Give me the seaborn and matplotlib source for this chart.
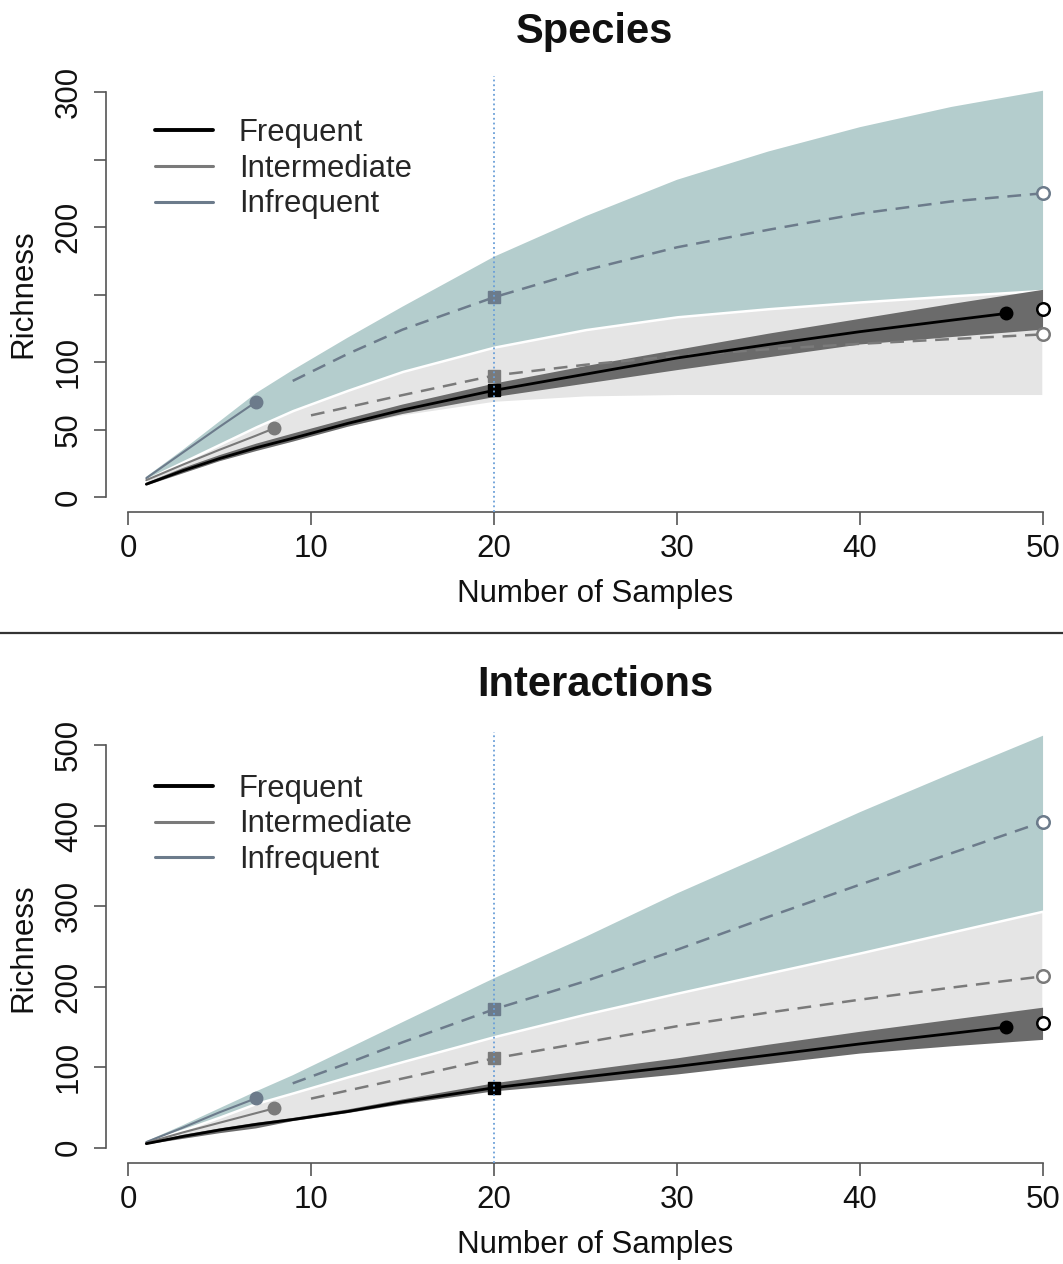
import matplotlib
matplotlib.use("Agg")
import matplotlib.pyplot as plt
from matplotlib.lines import Line2D
import seaborn as sns

sns.set_theme(style="white")
plt.rcParams['font.family'] = ['Liberation Sans', 'DejaVu Sans']

groups = ["Infrequent", "Intermediate", "Frequent"]
line_col = {"Frequent": "black", "Intermediate": "#7a7a7a", "Infrequent": "#6c7b8b"}
band_col = {"Frequent": "#6b6b6b", "Intermediate": "#e5e5e5", "Infrequent": "#b4cdcd"}
line_w = {"Frequent": 2.0, "Intermediate": 1.5, "Infrequent": 1.5}
leg_w = {"Frequent": 2.8, "Intermediate": 2.2, "Infrequent": 2.2}

# shared x grid of the confidence bands
band_x = [1, 3, 5, 7, 9, 12, 15, 20, 25, 30, 35, 40, 45, 50]

# ---- Species ----
sp_fr_rx = [1, 3, 5, 7, 9, 12, 15, 20, 25, 30, 35, 40, 45, 48]
sp_fr_ry = [9.5, 19.5, 28.5, 36.5, 43.5, 54.5, 64.5, 79, 91, 103, 113, 122.5, 131, 136]
sp_fr_ex = [48, 50]
sp_fr_ey = [136, 139.5]
sp_fr_lo = [8.5, 17.5, 26.5, 34, 41, 52, 61.5, 74, 84, 94, 103.5, 113, 118.5, 124]
sp_fr_hi = [10.5, 21.5, 31, 39.5, 47, 58, 68.5, 84, 97, 109, 121, 132, 143, 153.5]

sp_in_rx = [1, 3, 5, 7, 8]
sp_in_ry = [12.5, 24, 35, 45.5, 51]
sp_in_ex = [10, 15, 20, 25, 30, 35, 40, 45, 50]
sp_in_ey = [60.5, 75.5, 90, 98, 104.5, 109.5, 113.5, 117, 120.5]
sp_in_lo = [8.5, 17.5, 26.5, 34, 41, 52, 60, 70, 74, 75, 75, 75, 75, 75]
sp_in_hi = [13, 26, 39, 52, 64, 79, 93, 111, 124, 133.5, 139.5, 144.5, 149, 153]

sp_if_rx = [1, 3, 5, 7]
sp_if_ry = [14, 33, 52, 70.5]
sp_if_ex = [9, 12, 15, 20, 25, 30, 35, 40, 45, 50]
sp_if_ey = [86, 106, 124, 148, 168, 185, 198, 210, 219, 225]
sp_if_lo = [11, 23, 36, 49, 61, 76, 90, 108, 121, 130, 136, 141, 146, 150]
sp_if_hi = [15, 35, 56, 77, 94, 118, 141, 178, 208, 235, 256, 274, 289, 301]

# ---- Interactions ----
in_fr_rx = [1, 3, 5, 7, 9, 12, 15, 20, 25, 30, 35, 40, 45, 48]
in_fr_ry = [5, 14, 22, 29, 35, 45, 57, 74.5, 88, 101, 115, 129, 142, 150]
in_fr_ex = [48, 50]
in_fr_ey = [150, 155]
in_fr_lo = [4, 11, 18, 24, 33, 43, 54, 70, 80, 91, 104, 117, 126, 134]
in_fr_hi = [6, 16, 24, 31, 37, 47.5, 60, 80, 96, 111, 128, 144, 159, 174]

in_in_rx = [1, 3, 5, 7, 8]
in_in_ry = [6, 19, 31, 43, 49]
in_in_ex = [10, 15, 20, 25, 30, 35, 40, 45, 50]
in_in_ey = [61, 86, 111, 131, 151, 168, 184, 199, 213]
in_in_lo = [5, 12, 20, 27, 34, 44, 55, 71, 82, 93, 106, 119, 128, 137]
in_in_hi = [7, 22, 38, 55, 68, 88, 107, 138, 166, 192, 217, 242, 268, 294]

in_if_rx = [1, 3, 5, 7]
in_if_ry = [7, 25, 44, 61.5]
in_if_ex = [9, 12, 15, 20, 25, 30, 35, 40, 45, 50]
in_if_ey = [80, 105, 131, 172, 207, 246, 287, 327, 366, 405]
in_if_lo = [5, 19, 35, 52, 65, 85, 104, 135, 163, 189, 214, 239, 265, 291]
in_if_hi = [8, 28, 49, 70, 90, 123, 156, 210.5, 262, 316, 366, 417, 465, 512]

ref_size = 20

panels = [
    {"title": "Species", "yticks": [0, 50, 100, 150, 200, 250, 300],
     "ylabels": ["0", "50", "100", "", "200", "", "300"], "ylim": (-11.1, 311.9),
     "pos": [106 / 1063, 1 - 512 / 1264, 957 / 1063, 436 / 1264], "tpad": 24,
     "data": {"Frequent": (sp_fr_rx, sp_fr_ry, sp_fr_ex, sp_fr_ey, sp_fr_lo, sp_fr_hi),
              "Intermediate": (sp_in_rx, sp_in_ry, sp_in_ex, sp_in_ey, sp_in_lo, sp_in_hi),
              "Infrequent": (sp_if_rx, sp_if_ry, sp_if_ex, sp_if_ey, sp_if_lo, sp_if_hi)}},
    {"title": "Interactions", "yticks": [0, 100, 200, 300, 400, 500],
     "ylabels": ["0", "100", "200", "300", "400", "500"], "ylim": (-19.0, 516.6),
     "pos": [106 / 1063, 1 - 1163 / 1264, 957 / 1063, 431 / 1264], "tpad": 26,
     "data": {"Frequent": (in_fr_rx, in_fr_ry, in_fr_ex, in_fr_ey, in_fr_lo, in_fr_hi),
              "Intermediate": (in_in_rx, in_in_ry, in_in_ex, in_in_ey, in_in_lo, in_in_hi),
              "Infrequent": (in_if_rx, in_if_ry, in_if_ex, in_if_ey, in_if_lo, in_if_hi)}},
]

fig = plt.figure(figsize=(10.63, 12.64), dpi=100)

for p in panels:
    ax = fig.add_axes(p["pos"])
    for g in groups:
        rx, ry, ex, ey, lo, hi = p["data"][g]
        edge = "white" if g == "Intermediate" else "none"
        ax.fill_between(band_x, lo, hi, color=band_col[g], edgecolor=edge,
                        linewidth=1.8 if g == "Intermediate" else 0, zorder=2)
        sns.lineplot(x=rx, y=ry, color=line_col[g], linewidth=line_w[g], ax=ax, zorder=3)
        if g != "Frequent":
            sns.lineplot(x=ex, y=ey, color=line_col[g], linewidth=1.8, ax=ax, zorder=3,
                         linestyle=(0, (5.5, 3.5)))
        ax.plot(rx[-1], ry[-1], "o", color=line_col[g], ms=9, zorder=6)
        ax.plot(ex[-1], ey[-1], "o", mfc="white", mec=line_col[g], mew=1.8, ms=9, zorder=6)
        allx = rx + ex
        ally = ry + ey
        ax.plot(ref_size, ally[allx.index(ref_size)], "s", color=line_col[g], ms=9, zorder=6)

    ax.axvline(ref_size, color="#6a9fd8", linestyle=":", linewidth=1.3, zorder=7)

    ax.set_xlim(-1.202, 51.09)
    ax.set_ylim(*p["ylim"])
    for s in ["top", "right"]:
        ax.spines[s].set_visible(False)
    for s in ["left", "bottom"]:
        ax.spines[s].set_color("#555555")
        ax.spines[s].set_linewidth(1.2)
    ax.spines["left"].set_bounds(p["yticks"][0], p["yticks"][-1])
    ax.spines["bottom"].set_bounds(0, 50)
    ax.set_xticks([0, 10, 20, 30, 40, 50])
    ax.set_yticks(p["yticks"])
    ax.set_yticklabels(p["ylabels"], rotation=90, va="center")
    ax.tick_params(axis="both", direction="out", length=9, width=1.2, color="#555555",
                   labelsize=22.5, labelcolor="#111111", left=True, bottom=True, pad=7)
    ax.set_xlabel("Number of Samples", fontsize=22.5, labelpad=11, color="#111111")
    ax.xaxis.label.set_x(0.511)
    ax.set_ylabel("Richness", fontsize=22.5, labelpad=11, color="#111111")
    ax.set_title(p["title"], fontsize=30, fontweight="bold", x=0.511, pad=p["tpad"],
                 color="#111111")
    ax.grid(False)

    handles = [Line2D([], [], color=line_col[g], linewidth=leg_w[g])
               for g in ["Frequent", "Intermediate", "Infrequent"]]
    ax.legend(handles, ["Frequent", "Intermediate", "Infrequent"], loc="upper left",
              bbox_to_anchor=(0.051, 0.903), frameon=False, fontsize=22.3,
              handlelength=1.87, handletextpad=0.84, labelspacing=0.18,
              borderpad=0, borderaxespad=0)

fig.add_artist(Line2D([0, 1], [1 - 633 / 1264, 1 - 633 / 1264], color="#333333",
                      linewidth=1.6, transform=fig.transFigure))

fig.savefig("out.png", dpi=100)
